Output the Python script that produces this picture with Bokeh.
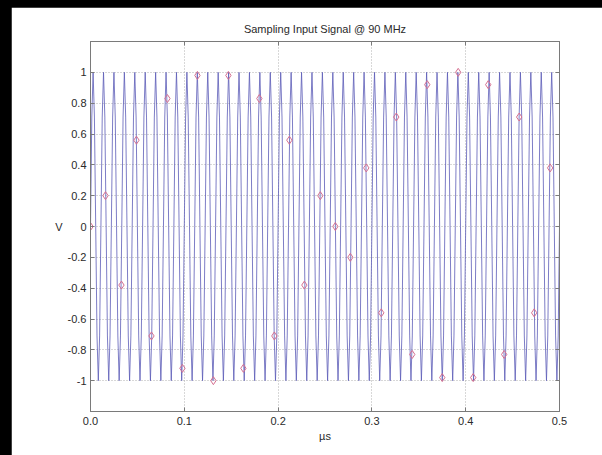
import numpy as np
from bokeh.plotting import figure
from bokeh.models import FixedTicker, LinearAxis, Range1d, Title, GlobalInlineStyleSheet
from bokeh.embed import file_html
from bokeh.resources import INLINE

title_text = "Sampling Input Signal @ 90 MHz"
x_label = "\u00b5s"
y_label = "V"

x_ticks = [0.0, 0.1, 0.2, 0.3, 0.4, 0.5]
x_tick_labels = ["0.0", "0.1", "0.2", "0.3", "0.4", "0.5"]
y_ticks = [-1.0, -0.8, -0.6, -0.4, -0.2, 0.0, 0.2, 0.4, 0.6, 0.8, 1.0]
y_tick_labels = ["-1", "-0.8", "-0.6", "-0.4", "-0.2", "0", "0.2", "0.4", "0.6", "0.8", "1"]

# 90 MHz input signal (45 cycles over 0.5 us, 8 points per cycle)
wave_v = [
    0, 0.71, 1, 0.71, 0, -0.71, -1, -0.71,
    0, 0.71, 1, 0.71, 0, -0.71, -1, -0.71,
    0, 0.71, 1, 0.71, 0, -0.71, -1, -0.71,
    0, 0.71, 1, 0.71, 0, -0.71, -1, -0.71,
    0, 0.71, 1, 0.71, 0, -0.71, -1, -0.71,
    0, 0.71, 1, 0.71, 0, -0.71, -1, -0.71,
    0, 0.71, 1, 0.71, 0, -0.71, -1, -0.71,
    0, 0.71, 1, 0.71, 0, -0.71, -1, -0.71,
    0, 0.71, 1, 0.71, 0, -0.71, -1, -0.71,
    0, 0.71, 1, 0.71, 0, -0.71, -1, -0.71,
    0, 0.71, 1, 0.71, 0, -0.71, -1, -0.71,
    0, 0.71, 1, 0.71, 0, -0.71, -1, -0.71,
    0, 0.71, 1, 0.71, 0, -0.71, -1, -0.71,
    0, 0.71, 1, 0.71, 0, -0.71, -1, -0.71,
    0, 0.71, 1, 0.71, 0, -0.71, -1, -0.71,
    0, 0.71, 1, 0.71, 0, -0.71, -1, -0.71,
    0, 0.71, 1, 0.71, 0, -0.71, -1, -0.71,
    0, 0.71, 1, 0.71, 0, -0.71, -1, -0.71,
    0, 0.71, 1, 0.71, 0, -0.71, -1, -0.71,
    0, 0.71, 1, 0.71, 0, -0.71, -1, -0.71,
    0, 0.71, 1, 0.71, 0, -0.71, -1, -0.71,
    0, 0.71, 1, 0.71, 0, -0.71, -1, -0.71,
    0, 0.71, 1, 0.71, 0, -0.71, -1, -0.71,
    0, 0.71, 1, 0.71, 0, -0.71, -1, -0.71,
    0, 0.71, 1, 0.71, 0, -0.71, -1, -0.71,
    0, 0.71, 1, 0.71, 0, -0.71, -1, -0.71,
    0, 0.71, 1, 0.71, 0, -0.71, -1, -0.71,
    0, 0.71, 1, 0.71, 0, -0.71, -1, -0.71,
    0, 0.71, 1, 0.71, 0, -0.71, -1, -0.71,
    0, 0.71, 1, 0.71, 0, -0.71, -1, -0.71,
    0, 0.71, 1, 0.71, 0, -0.71, -1, -0.71,
    0, 0.71, 1, 0.71, 0, -0.71, -1, -0.71,
    0, 0.71, 1, 0.71, 0, -0.71, -1, -0.71,
    0, 0.71, 1, 0.71, 0, -0.71, -1, -0.71,
    0, 0.71, 1, 0.71, 0, -0.71, -1, -0.71,
    0, 0.71, 1, 0.71, 0, -0.71, -1, -0.71,
    0, 0.71, 1, 0.71, 0, -0.71, -1, -0.71,
    0, 0.71, 1, 0.71, 0, -0.71, -1, -0.71,
    0, 0.71, 1, 0.71, 0, -0.71, -1, -0.71,
    0, 0.71, 1, 0.71, 0, -0.71, -1, -0.71,
    0, 0.71, 1, 0.71, 0, -0.71, -1, -0.71,
    0, 0.71, 1, 0.71, 0, -0.71, -1, -0.71,
    0, 0.71, 1, 0.71, 0, -0.71, -1, -0.71,
    0, 0.71, 1, 0.71, 0, -0.71, -1, -0.71,
    0, 0.71, 1, 0.71, 0, -0.71, -1, -0.71,
    0,
]
wave_t = np.linspace(0.0, 0.5, len(wave_v))  # uniform time grid of the signal

# samples (red diamonds)
sample_t = [0.0, 0.016, 0.033, 0.049, 0.065, 0.082, 0.098, 0.114, 0.131, 0.147,
            0.163, 0.180, 0.196, 0.212, 0.228, 0.245, 0.261, 0.277, 0.294, 0.310,
            0.326, 0.343, 0.359, 0.375, 0.392, 0.408, 0.424, 0.441, 0.457, 0.473, 0.490]
sample_v = [0.0, 0.2, -0.38, 0.56, -0.71, 0.83, -0.92, 0.98, -1.0, 0.98,
            -0.92, 0.83, -0.71, 0.56, -0.38, 0.2, 0.0, -0.2, 0.38, -0.56,
            0.71, -0.83, 0.92, -0.98, 1.0, -0.98, 0.92, -0.83, 0.71, -0.56, 0.38]

FONT = "Liberation Sans"
AXIS_COL = "#7a7a7a"
TEXT_COL = "#2a2a2a"

p = figure(width=591, height=448, frame_width=469, frame_height=370,
           output_backend="svg", toolbar_location=None,
           x_range=Range1d(0, 0.5), y_range=Range1d(-1.2, 1.2),
           min_border_left=79, min_border_right=43, min_border_top=34, min_border_bottom=44,
           background_fill_color="white", border_fill_color="white")
p.margin = (7, 0, 0, 11)
p.stylesheets = [GlobalInlineStyleSheet(css="html, body { background-color: #000000; margin: 0; }")]
p.outline_line_color = AXIS_COL

# box ticks on top and right (no labels)
p.add_layout(LinearAxis(), "above")
p.add_layout(LinearAxis(), "right")

p.add_layout(Title(text=title_text, align="center", text_font=FONT, text_font_size="11px",
                   text_font_style="normal", text_color=TEXT_COL, standoff=13), "above")

for ax in p.xaxis:
    ax.ticker = FixedTicker(ticks=x_ticks)
    ax.major_label_overrides = dict(zip(x_ticks, x_tick_labels))
for ax in p.yaxis:
    ax.ticker = FixedTicker(ticks=y_ticks)
    ax.major_label_overrides = dict(zip(y_ticks, y_tick_labels))

for ax in p.axis:
    ax.axis_line_color = AXIS_COL
    ax.major_tick_line_color = AXIS_COL
    ax.major_tick_in = 4
    ax.major_tick_out = 0
    ax.minor_tick_line_color = None
    ax.major_label_text_font = FONT
    ax.major_label_text_font_size = "11px"
    ax.major_label_text_color = TEXT_COL

for ax in (p.above[0], p.right[0]):
    ax.major_label_text_color = None
    ax.major_label_standoff = 0

bx = p.below[0]
bx.major_label_standoff = 5
bx.axis_label = x_label
bx.axis_label_standoff = 2
bx.axis_label_text_font = FONT
bx.axis_label_text_font_size = "11px"
bx.axis_label_text_font_style = "normal"
bx.axis_label_text_color = TEXT_COL

ly = p.left[0]
ly.major_label_standoff = 4
ly.axis_label = y_label
ly.axis_label_orientation = "horizontal"
ly.axis_label_standoff = 2
ly.axis_label_text_font = FONT
ly.axis_label_text_font_size = "11px"
ly.axis_label_text_font_style = "normal"
ly.axis_label_text_color = TEXT_COL

p.xgrid.ticker = FixedTicker(ticks=x_ticks)
p.ygrid.ticker = FixedTicker(ticks=y_ticks)
for g in (p.xgrid, p.ygrid):
    g.grid_line_color = "#b0b0b0"
    g.grid_line_dash = "1 2"

p.line(wave_t, wave_v, line_color="#5c5cb8", line_width=0.8)
p.scatter(sample_t, sample_v, marker="diamond", size=8, fill_color=None,
          line_color="#d66f90", line_width=1)

open("out.html", "w").write(file_html(p, INLINE))
